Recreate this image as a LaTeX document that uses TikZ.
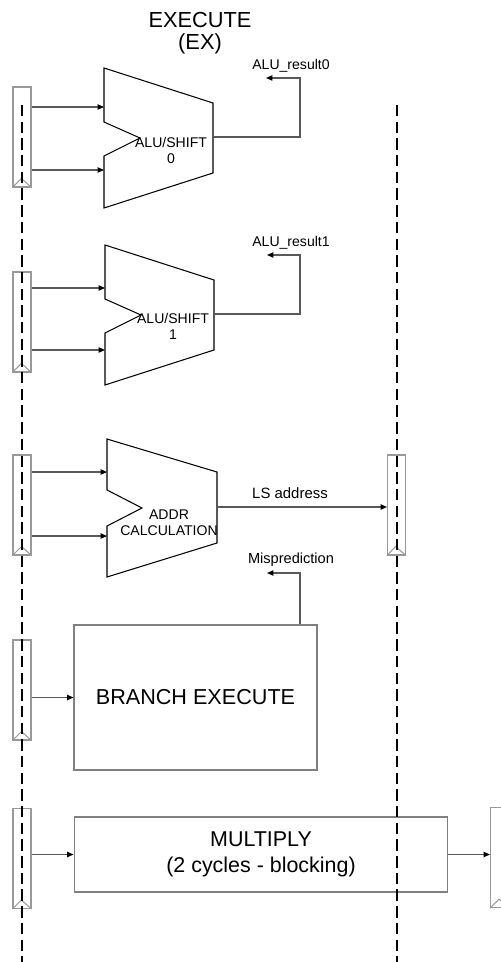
\documentclass[tikz,border=0pt]{standalone}
\usepackage{fontspec}
\setmainfont{Liberation Sans}
\usetikzlibrary{arrows.meta, positioning, calc}

\begin{document}
\begin{tikzpicture}[x=0.02cm, y=-0.02cm,
  reg/.style={draw=black!40, line width=0.6pt, minimum width=0.36cm,
              minimum height=2cm, inner sep=0pt},
  clk/.style={draw=black!40, line width=0.6pt},
  unit/.style={draw=black, line width=0.6pt},
  box/.style={draw=black!50, line width=0.6pt, inner sep=0pt, align=center},
  wire/.style={draw=black!65, line width=0.6pt},
  arr/.style={wire, -{Triangle[length=3.6pt, width=3pt, color=black]}},
  stage/.style={draw=black, line width=0.85pt, dash pattern=on 6.5pt off 3pt},
  lbl/.style={font=\fontsize{8}{9.1}\selectfont, align=center, inner sep=0pt},
  big/.style={font=\fontsize{12.2}{14.8}\selectfont, align=center, inner sep=0pt}]
  \useasboundingbox (0,0) rectangle (500,962);

  % Stage title
  \node[big, font=\fontsize{12.4}{12.2}\selectfont] (title) at (200,33) {EXECUTE\\(EX)};

  % Pipeline registers
  \node[reg] (r1) at (22,137) {};
  \node[reg] (r2) at (22,322) {};
  \node[reg] (r3) at (22,505) {};
  \node[reg] (r4) at (22,690) {};
  \node[reg] (r5) at (22,858.5) {};
  \node[reg] (r6) at (396.5,505) {};
  \node[reg] (r7) at (499.5,857.5) {};

  % Clock marks
  \draw[clk] (r1.south west) -- ++(9,-9) -- (r1.south east);
  \draw[clk] (r2.south west) -- ++(9,-9) -- (r2.south east);
  \draw[clk] (r3.south west) -- ++(9,-9) -- (r3.south east);
  \draw[clk] (r4.south west) -- ++(9,-9) -- (r4.south east);
  \draw[clk] (r5.south west) -- ++(9,-9) -- (r5.south east);
  \draw[clk] (r6.south west) -- ++(8.5,-9) -- (r6.south east);
  \draw[clk] (r7.south west) -- ++(9,-9) -- (r7.south east);

  % ALU/SHIFT 0
  \draw[unit] (104,68) -- (213,103) -- (213,173) -- (104,208) -- (104,156)
    -- (140,138) -- (104,122) -- cycle;
  \node[lbl] (alu0) at (171,150) {ALU/SHIFT\\0};
  \coordinate (alu0a) at (104,107);
  \coordinate (alu0b) at (104,170);
  \coordinate (alu0o) at (213,137);
  \node[lbl] (res0) at (291,66) {ALU\_result0};
  \coordinate (res0k) at (300,78);
  \coordinate (res0t) at (266,78);

  % ALU/SHIFT 1
  \draw[unit] (105,245) -- (214,280) -- (214,350) -- (105,385) -- (105,333)
    -- (141,315) -- (105,299) -- cycle;
  \node[lbl] (alu1) at (173,326) {ALU/SHIFT\\1};
  \coordinate (alu1a) at (105,288);
  \coordinate (alu1b) at (105,350);
  \coordinate (alu1o) at (214,314);
  \node[lbl] (res1) at (291,243) {ALU\_result1};
  \coordinate (res1k) at (300,255);
  \coordinate (res1t) at (267,255);

  % Address calculation
  \draw[unit] (107,439) -- (217,472) -- (217,543) -- (107,577) -- (107,526)
    -- (142,508) -- (107,490) -- cycle;
  \node[lbl] (addr) at (169,523) {ADDR\\CALCULATION};
  \coordinate (addra) at (107,472);
  \coordinate (addrb) at (107,536);
  \coordinate (addro) at (217,507);
  \node[lbl, font=\fontsize{8.5}{9.5}\selectfont] (lsaddr) at (290,493) {LS address};

  % Branch execute
  \node[box, minimum width=4.86cm, minimum height=2.9cm,
        font=\fontsize{12.3}{14}\selectfont] (branch) at (195.5,697.5) {BRANCH EXECUTE};
  \node[lbl, font=\fontsize{8.3}{9.5}\selectfont] (mispred) at (291,560) {Misprediction};
  \coordinate (mispk) at (300,573);
  \coordinate (mispt) at (267,573);

  % Multiply
  \node[big, draw=black!50, line width=0.6pt, minimum width=7.48cm,
        minimum height=1.5cm] (mul) at (261,854.5) {MULTIPLY\\(2 cycles - blocking)};

  % Register to unit connections
  \draw[arr] (r1.east |- alu0a) -- (alu0a);
  \draw[arr] (r1.east |- alu0b) -- (alu0b);
  \draw[arr] (r2.east |- alu1a) -- (alu1a);
  \draw[arr] (r2.east |- alu1b) -- (alu1b);
  \draw[arr] (r3.east |- addra) -- (addra);
  \draw[arr] (r3.east |- addrb) -- (addrb);
  \draw[arr] (r4.east |- branch.west) -- (branch.west);
  \draw[arr] (r5.east |- mul.west) -- (mul.west);

  % Results
  \draw[arr] (alu0o) -| (res0k) -- (res0t);
  \draw[arr] (alu1o) -| (res1k) -- (res1t);
  \draw[arr] (addro) -- (r6.west |- addro);
  \draw[arr] (branch.north -| mispk) -- (mispk) -- (mispt);
  \draw[arr] (mul.east) -- (r7.west |- mul.east);

  % Stage boundaries
  \coordinate (bl0) at (22,105);
  \coordinate (bl1) at (22,962);
  \coordinate (br0) at (397,105);
  \coordinate (br1) at (397,962);
  \draw[stage] (bl0) -- (bl1);
  \draw[stage] (br0) -- (br1);
\end{tikzpicture}
\end{document}
